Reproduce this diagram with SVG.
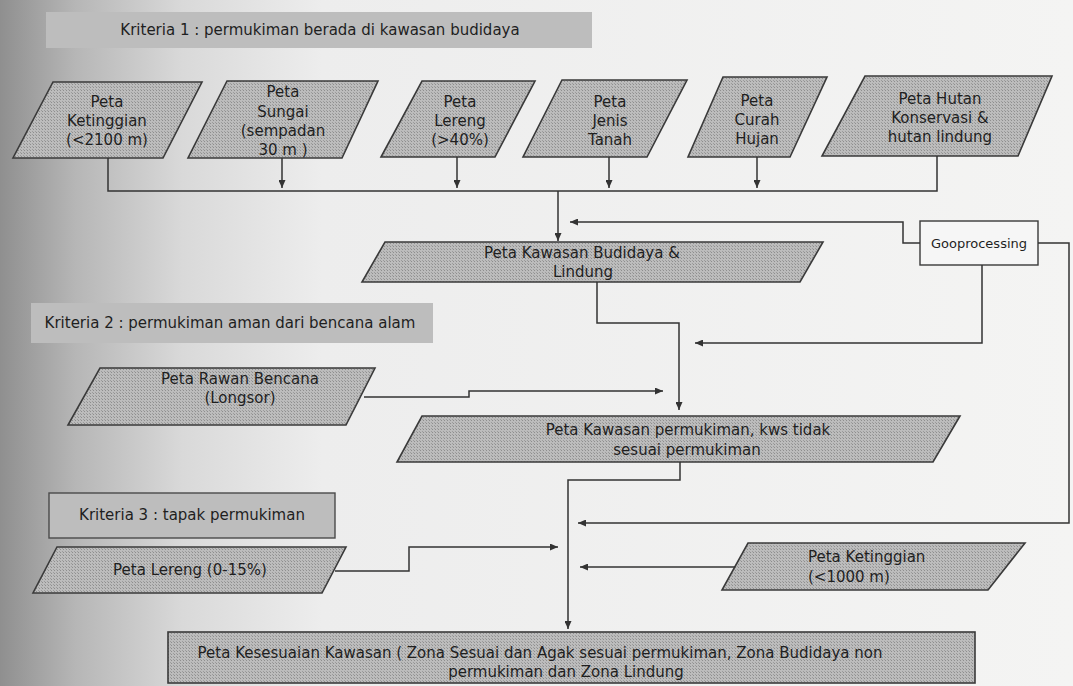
<svg xmlns="http://www.w3.org/2000/svg" width="1073" height="686" viewBox="0 0 1073 686">
<defs>
<linearGradient id="bg" x1="0" y1="0" x2="1" y2="0">
<stop offset="0" stop-color="#8f8f8f"/>
<stop offset="0.07" stop-color="#b6b6b6"/>
<stop offset="0.17" stop-color="#d9d9d9"/>
<stop offset="0.3" stop-color="#ededed"/>
<stop offset="1" stop-color="#f4f4f3"/>
</linearGradient>
<pattern id="dots" width="3" height="3" patternUnits="userSpaceOnUse">
<rect width="3" height="3" fill="#bcbcbc"/>
<rect width="1" height="1" fill="#8e8e8e"/>
<rect x="2" y="2" width="1" height="1" fill="#9c9c9c"/>
</pattern>
<marker id="ah" markerUnits="userSpaceOnUse" markerWidth="9" markerHeight="7" refX="8" refY="3.5" orient="auto">
<path d="M0,0 L8,3.5 L0,7 z" fill="#333"/>
</marker>
</defs>
<style>
.shape{fill:url(#dots);stroke:#3a3a3a;stroke-width:1.6}
.krit{fill:#bdbdbd;stroke:none}
.krit3{fill:#bdbdbd;stroke:#4a4a4a;stroke-width:1.4}
.plain{fill:#f6f6f6;stroke:#3a3a3a;stroke-width:1.4}
.t{font-family:"DejaVu Sans",sans-serif;font-size:15px;fill:#1f1f1f;text-anchor:middle}
.tl{font-family:"DejaVu Sans",sans-serif;font-size:15px;fill:#1f1f1f;text-anchor:start}
.ts{font-family:"DejaVu Sans",sans-serif;font-size:13px;fill:#1f1f1f;text-anchor:middle}
.c{fill:none;stroke:#333;stroke-width:1.5}
.ca{fill:none;stroke:#333;stroke-width:1.5;marker-end:url(#ah)}
</style>
<rect width="1073" height="686" fill="url(#bg)"/>

<g id="kriteria1">
<rect class="krit" x="46" y="12" width="546" height="36"/>
<text class="t" x="320" y="35">Kriteria 1 : permukiman berada di kawasan budidaya</text>
</g>

<g id="peta-ketinggian-2100">
<polygon class="shape" points="53,82 202,82 163,158 13,158"/>
<text class="t" x="107" y="107">Peta</text>
<text class="t" x="107" y="126">Ketinggian</text>
<text class="t" x="107" y="145">(&lt;2100 m)</text>
</g>

<g id="peta-sungai">
<polygon class="shape" points="227,81 378,81 342,158 188,158"/>
<text class="t" x="283" y="97">Peta</text>
<text class="t" x="283" y="117">Sungai</text>
<text class="t" x="283" y="136">(sempadan</text>
<text class="t" x="283" y="155">30 m )</text>
</g>

<g id="peta-lereng-40">
<polygon class="shape" points="422,81 535,81 495,157 381,157"/>
<text class="t" x="460" y="107">Peta</text>
<text class="t" x="460" y="126">Lereng</text>
<text class="t" x="460" y="145">(&gt;40%)</text>
</g>

<g id="peta-jenis-tanah">
<polygon class="shape" points="562,80 687,80 647,157 523,157"/>
<text class="t" x="610" y="107">Peta</text>
<text class="t" x="610" y="126">Jenis</text>
<text class="t" x="610" y="145">Tanah</text>
</g>

<g id="peta-curah-hujan">
<polygon class="shape" points="723,77 827,77 790,157 688,157"/>
<text class="t" x="757" y="106">Peta</text>
<text class="t" x="757" y="125">Curah</text>
<text class="t" x="757" y="144">Hujan</text>
</g>

<g id="peta-hutan">
<polygon class="shape" points="865,76 1052,76 1018,156 822,156"/>
<text class="t" x="940" y="104">Peta Hutan</text>
<text class="t" x="940" y="123">Konservasi &amp;</text>
<text class="t" x="940" y="142">hutan lindung</text>
</g>

<g id="peta-budidaya-lindung">
<polygon class="shape" points="385,242 823,242 800,282 362,282"/>
<text class="t" x="582" y="258">Peta Kawasan Budidaya &amp;</text>
<text class="t" x="583" y="277">Lindung</text>
</g>

<g id="geoprocessing">
<rect class="plain" x="920" y="221" width="118" height="44"/>
<text class="ts" x="979" y="248">Gooprocessing</text>
</g>

<g id="kriteria2">
<rect class="krit" x="31" y="303" width="402" height="40"/>
<text class="t" x="230" y="328">Kriteria 2 : permukiman aman dari bencana alam</text>
</g>

<g id="peta-rawan-bencana">
<polygon class="shape" points="100,368 375,368 346,425 68,425"/>
<text class="t" x="240" y="384">Peta Rawan Bencana</text>
<text class="t" x="240" y="403">(Longsor)</text>
</g>

<g id="peta-kawasan-permukiman">
<polygon class="shape" points="422,416 960,416 933,462 397,462"/>
<text class="t" x="688" y="435">Peta Kawasan permukiman, kws tidak</text>
<text class="t" x="687" y="455">sesuai permukiman</text>
</g>

<g id="kriteria3">
<rect class="krit3" x="49" y="493" width="286" height="45"/>
<text class="t" x="192" y="520">Kriteria 3 : tapak permukiman</text>
</g>

<g id="peta-lereng-15">
<polygon class="shape" points="57,547 346,547 322,593 33,593"/>
<text class="t" x="190" y="575">Peta Lereng (0-15%)</text>
</g>

<g id="peta-ketinggian-1000">
<polygon class="shape" points="748,543 1025,543 988,590 722,590"/>
<text class="tl" x="808" y="562">Peta Ketinggian</text>
<text class="tl" x="808" y="582">(&lt;1000 m)</text>
</g>

<g id="peta-kesesuaian">
<rect class="shape" x="168" y="632" width="807" height="51"/>
<text class="t" x="540" y="658">Peta Kesesuaian Kawasan ( Zona Sesuai dan Agak sesuai permukiman, Zona Budidaya non</text>
<text class="t" x="566" y="677">permukiman dan Zona Lindung</text>
</g>

<g id="connectors">
<path class="c" d="M108,158 V191 H937 V156"/>
<path class="ca" d="M282,158 V188"/>
<path class="ca" d="M457,157 V188"/>
<path class="ca" d="M609,157 V188"/>
<path class="ca" d="M757,157 V188"/>
<path class="ca" d="M558,191 V241"/>
<path class="ca" d="M920,243 H903 V222 H570"/>
<path class="ca" d="M1038,243 H1069 V523 H578"/>
<path class="ca" d="M982,265 V343 H695"/>
<path class="ca" d="M597,282 V323 H679 V410"/>
<path class="ca" d="M364,397 H469 V391 H663"/>
<path class="ca" d="M680,462 V480 H568 V629"/>
<path class="ca" d="M335,571 H409 V547 H558"/>
<path class="ca" d="M735,567 H580"/>
</g>
</svg>
